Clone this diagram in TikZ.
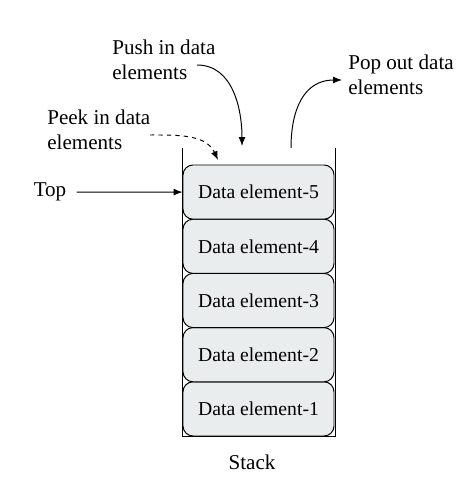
\documentclass[tikz,border=0pt]{standalone}
\usepackage{fontspec}
\setmainfont{Liberation Serif}
\usetikzlibrary{arrows.meta}
\definecolor{elemfill}{RGB}{234,237,237}
\tikzset{
  elembox/.style={draw, fill=elemfill, rounded corners=0.25cm, line width=0.7pt,
    minimum width=3.775cm, minimum height=1.355cm, inner sep=0pt,
    font=\fontsize{14}{17}\selectfont},
  lbl/.style={align=left, inner sep=0pt, font=\fontsize{15}{17.8}\selectfont},
  conn/.style={line width=0.7pt, -{Latex[length=0.22cm,width=0.17cm]}}
}
\begin{document}
\begin{tikzpicture}
    \useasboundingbox (0,0) rectangle (11.7,12.1);

    % stack container
    \draw[line width=0.7pt] (4.55,8.4) |- (8.375,1.2) -- (8.375,8.4);

    % data elements
    \foreach \i in {1,...,5}
      \node[elembox] (elem\i) at (6.4625,{1.2+0.6775+(\i-1)*1.355}) {Data element-\i};

    \node[lbl, anchor=center] (top) at (1.25,7.2975) {Top};
    \node[lbl, anchor=west] (push) at (2.8,10.61) {Push in data\\elements};
    \node[lbl, anchor=west] (peek) at (1.175,8.8625) {Peek in data\\elements};
    \node[lbl, anchor=west] (pop) at (8.7,10.2375) {Pop out data\\elements};
    \node[lbl, anchor=center] (stack) at (6.3,0.55) {Stack};

    % free ends of the arrows
    \coordinate (pushstart) at (4.925,10.475);
    \coordinate (pushend) at (6.05,8.45);
    \coordinate (peekstart) at (3.75,8.725);
    \coordinate (peekend) at (5.45,8.1);
    \coordinate (popstart) at (7.275,8.4);
    \coordinate (popend) at (8.55,10.1);

    \draw[conn] (top.east) ++(0.25,0) -- (elem5.west);
    \draw[conn] (pushstart) to[out=0,in=90,looseness=1] (pushend);
    \draw[conn, dashed] (peekstart) to[out=0,in=115] (peekend);
    \draw[conn] (popstart) to[out=90,in=180,looseness=1.15] (popend);
  \end{tikzpicture}
\end{document}
